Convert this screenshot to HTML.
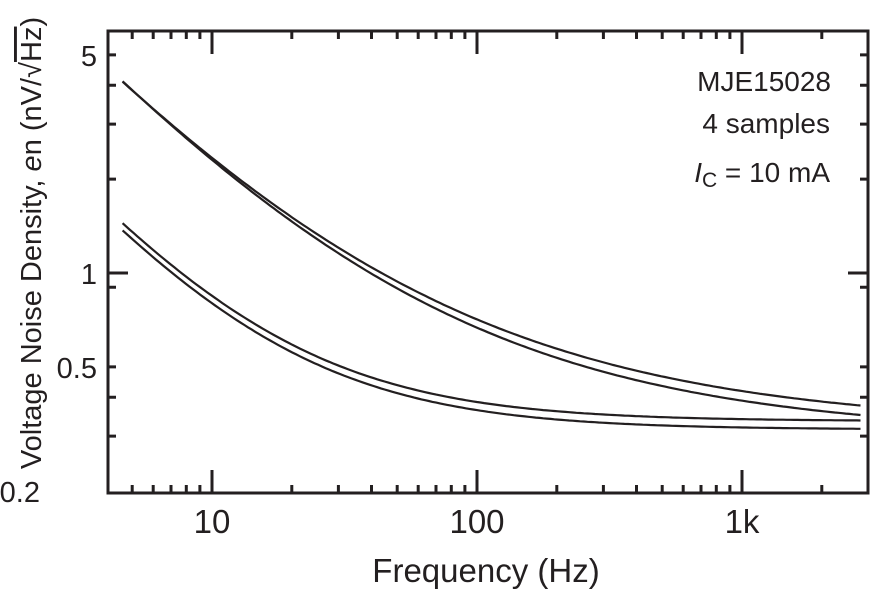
<!DOCTYPE html>
<html><head><meta charset="utf-8"><style>
html,body{margin:0;padding:0;background:#fff}
svg{display:block}
text{font-family:"Liberation Sans",sans-serif;fill:#231f20}
</style></head><body>
<svg id="s" width="884" height="594" viewBox="0 0 884 594" xmlns="http://www.w3.org/2000/svg">
<g id="ax" stroke="#231f20" stroke-width="3" fill="none"></g>
<g id="cv" stroke="#231f20" stroke-width="2.2" fill="none"></g>
<g font-size="29" text-anchor="end">
<text x="97" y="66">5</text>
<text x="97" y="284">1</text>
<text x="97" y="378">0.5</text>
<text x="40" y="502">0.2</text>
</g>
<g font-size="33" text-anchor="middle">
<text x="212" y="533">10</text>
<text x="477" y="533">100</text>
<text x="742" y="533">1k</text>
<text x="486" y="582">Frequency (Hz)</text>
</g>
<text transform="translate(41,243) rotate(-90)" font-size="29" text-anchor="middle">Voltage Noise Density, <tspan font-style="italic">e</tspan>n (nV/√<tspan text-decoration="overline">Hz</tspan>)</text>
<g font-size="28" text-anchor="end">
<text x="831" y="91">MJE15028</text>
<text x="830" y="133">4 samples</text>
<text x="830" y="182"><tspan font-style="italic">I</tspan><tspan font-size="21" dy="5">C</tspan><tspan dy="-5"> = 10 mA</tspan></text>
</g>
</svg>
<script>
var X=f=>212+265*Math.log10(f/10), Y=v=>273-312*Math.log10(v);
var ax=document.getElementById('ax'),d='M108,31H868V493H108Z';
[5,6,7,8,9,20,30,40,50,60,70,80,90,200,300,400,500,600,700,800,900,2000].forEach(f=>{var x=X(f).toFixed(1);d+='M'+x+',493v-8M'+x+',31v8';});
[10,100,1000].forEach(f=>{var x=X(f).toFixed(1);d+='M'+x+',493v-23M'+x+',31v23';});
[0.3,0.4,0.5,0.9,2,3,4,5].forEach(v=>{var y=Y(v).toFixed(1);d+='M108,'+y+'h8M868,'+y+'h-8';});
var y1=Y(1).toFixed(1);d+='M108,'+y1+'h20M868,'+y1+'h-20';
var p=document.createElementNS('http://www.w3.org/2000/svg','path');p.setAttribute('d',d);ax.appendChild(p);
var fs=[function(f){return 0.32+11.5/f+2.75/Math.sqrt(f)},function(f){return 0.30+12.3/f+2.45/Math.sqrt(f)},
function(f){return 0.335+5.1/f},function(f){return 0.315+4.85/f}];
var cv=document.getElementById('cv');
fs.forEach(fn=>{var s='';for(var i=0;i<=200;i++){var f=4.6*Math.pow(2800/4.6,i/200);s+=(i?'L':'M')+X(f).toFixed(1)+','+Y(fn(f)).toFixed(1);}
var q=document.createElementNS('http://www.w3.org/2000/svg','path');q.setAttribute('d',s);cv.appendChild(q);});
</script>
</body></html>
